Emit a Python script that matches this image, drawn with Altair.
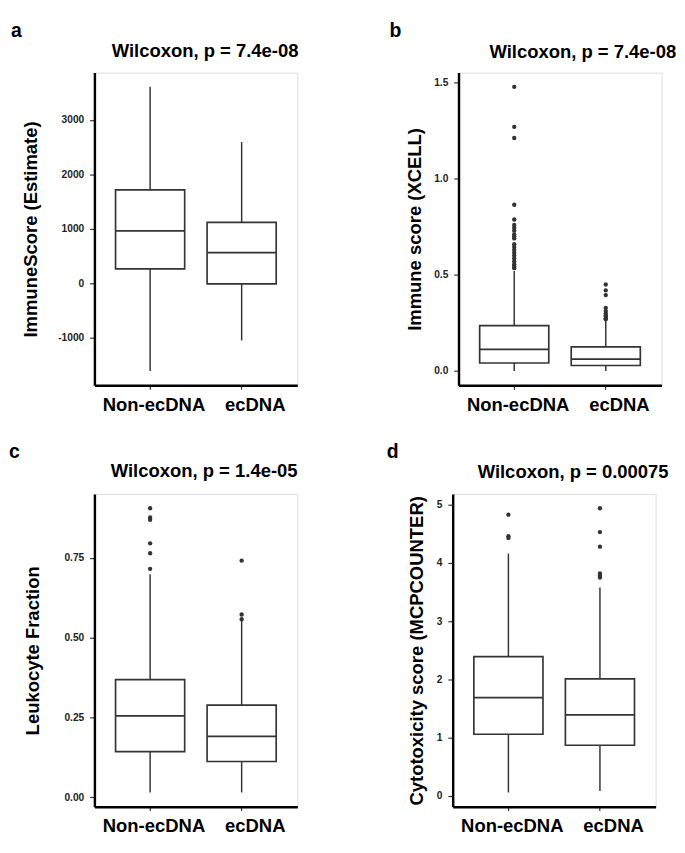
import altair as alt
import pandas as pd

groups = ["Non-ecDNA", "ecDNA"]
letters = ["a", "b", "c", "d"]
titles = ["Wilcoxon, p = 7.4e-08", "Wilcoxon, p = 7.4e-08",
          "Wilcoxon, p = 1.4e-05", "Wilcoxon, p = 0.00075"]
ytitles = ["ImmuneScore (Estimate)", "Immune score (XCELL)",
           "Leukocyte Fraction", "Cytotoxicity score (MCPCOUNTER)"]

# panel a: ImmuneScore (Estimate)
a_low = [-1605, -1045]
a_q1 = [268, -5]
a_med = [966, 565]
a_q3 = [1717, 1120]
a_high = [3606, 2594]
a_out_group = []
a_out_value = []
a_ticks = [-1000, 0, 1000, 2000, 3000]

# panel b: Immune score (XCELL)
b_low = [0.0, 0.0]
b_q1 = [0.042, 0.029]
b_med = [0.113, 0.062]
b_q3 = [0.236, 0.126]
b_high = [0.52, 0.265]
b_out_group = ["Non-ecDNA"] * 21 + ["ecDNA"] * 10
b_out_value = [1.478, 1.27, 1.212, 0.865, 0.788, 0.76, 0.745, 0.73, 0.71, 0.70,
               0.69, 0.66, 0.645, 0.63, 0.615, 0.60, 0.585, 0.57, 0.555, 0.545, 0.535,
               0.45, 0.42, 0.395, 0.329, 0.312, 0.30, 0.29, 0.282, 0.275, 0.27]
b_ticks = [0.0, 0.5, 1.0, 1.5]

# panel c: Leukocyte Fraction
c_low = [0.015, 0.015]
c_q1 = [0.143, 0.112]
c_med = [0.255, 0.191]
c_q3 = [0.369, 0.289]
c_high = [0.699, 0.553]
c_out_group = ["Non-ecDNA"] * 6 + ["ecDNA"] * 3
c_out_value = [0.906, 0.877, 0.870, 0.796, 0.765, 0.716, 0.742, 0.573, 0.558]
c_ticks = [0.0, 0.25, 0.5, 0.75]

# panel d: Cytotoxicity score (MCPCOUNTER)
d_low = [0.057, 0.083]
d_q1 = [1.058, 0.868]
d_med = [1.686, 1.39]
d_q3 = [2.39, 2.01]
d_high = [4.16, 3.58]
d_out_group = ["Non-ecDNA"] * 3 + ["ecDNA"] * 6
d_out_value = [4.83, 4.46, 4.43, 4.94, 4.53, 4.28, 3.82, 3.78, 3.75]
d_ticks = [0, 1, 2, 3, 4, 5]

W, H = 209, 322
FONT = "Liberation Sans"
LINE = "#333333"


def panel(letter, title, ytitle, low, q1, med, q3, high, og, ov, ticks, fmt,
          letter_x, title_x, title_y, title_pad):
    vals = list(low) + list(high) + list(ov)
    lo, hi = min(vals), max(vals)
    pad = (hi - lo) * 0.05
    box = pd.DataFrame({"group": groups, "low": low, "q1": q1, "med": med,
                        "q3": q3, "high": high})
    out = pd.DataFrame({"group": og, "value": ov})
    x = alt.X("group:N", sort=groups,
              scale=alt.Scale(domain=groups, paddingInner=0.245, paddingOuter=0.231),
              axis=alt.Axis(title=None, labelAngle=0, domainColor="black", domainWidth=2.5,
                            tickColor=LINE, tickSize=4, tickWidth=1.2,
                            labelFont=FONT, labelFontSize=19, labelFontWeight="bold",
                            labelColor="black", labelPadding=7,
                            labelOffset={"condition": {"test": "datum.value === 'ecDNA'",
                                                       "value": 14},
                                         "value": 4}))
    yscale = alt.Scale(domain=[lo - pad, hi + pad], nice=False, zero=False)
    yaxis = alt.Axis(values=ticks, format=fmt, grid=False,
                     labelExpr="replace(datum.label, '\u2212', '-')",
                     domainColor="black", domainWidth=2.5, tickColor=LINE,
                     tickSize=5, tickWidth=1.2, labelFont=FONT, labelFontSize=10.5,
                     labelFontWeight="bold", labelColor="#222", labelPadding=6,
                     title=ytitle, titleFont=FONT, titleFontSize=19,
                     titleFontWeight="bold", titleColor="black",
                     titlePadding=title_pad)
    base = alt.Chart(box)
    whisk = base.mark_rule(color=LINE, strokeWidth=1.5).encode(
        x=x, y=alt.Y("low:Q", scale=yscale, axis=yaxis), y2="high:Q")
    bars = base.mark_bar(fill="white", stroke=LINE, strokeWidth=1.7).encode(
        x=x, y="q1:Q", y2="q3:Q")
    meds = base.mark_tick(color=LINE, thickness=1.8, size=71, opacity=1).encode(
        x=x, y="med:Q")
    layers = [whisk, bars, meds]
    if len(ov):
        pts = alt.Chart(out).mark_circle(size=20, color="#333", opacity=1).encode(
            x=x, y="value:Q")
        layers.append(pts)
    lab = alt.Chart(pd.DataFrame({"t": [letter]})).mark_text(
        font=FONT, fontSize=20, fontWeight="bold", color="black",
        align="left", baseline="alphabetic").encode(
        text="t:N", x=alt.value(letter_x), y=alt.value(-37))
    ttl = alt.Chart(pd.DataFrame({"t": [title]})).mark_text(
        font=FONT, fontSize=19, fontWeight="bold", color="black",
        align="center", baseline="alphabetic").encode(
        text="t:N", x=alt.value(title_x), y=alt.value(title_y))
    layers += [lab, ttl]
    return alt.layer(*layers).properties(width=W, height=H)


pa = panel(letters[0], titles[0], ytitles[0], a_low, a_q1, a_med, a_q3, a_high,
           a_out_group, a_out_value, a_ticks, "d", -86, 114, -16, 18)
pb = panel(letters[1], titles[1], ytitles[1], b_low, b_q1, b_med, b_q3, b_high,
           b_out_group, b_out_value, b_ticks, ".1f", -71, 128, -15, 10)
pc = panel(letters[2], titles[2], ytitles[2], c_low, c_q1, c_med, c_q3, c_high,
           c_out_group, c_out_value, c_ticks, ".2f", -88, 113, -18, 22)
pd_ = panel(letters[3], titles[3], ytitles[3], d_low, d_q1, d_med, d_q3, d_high,
            d_out_group, d_out_value, d_ticks, "d", -68, 124, -17, 10)

chart = alt.vconcat(
    alt.hconcat(pa, pb, spacing=92),
    alt.hconcat(pc, pd_, spacing=90),
    spacing=27,
).properties(padding=0).configure_view(stroke=None).configure(background="white")

chart.save("out.html", embed_options={"renderer": "svg", "actions": False})
